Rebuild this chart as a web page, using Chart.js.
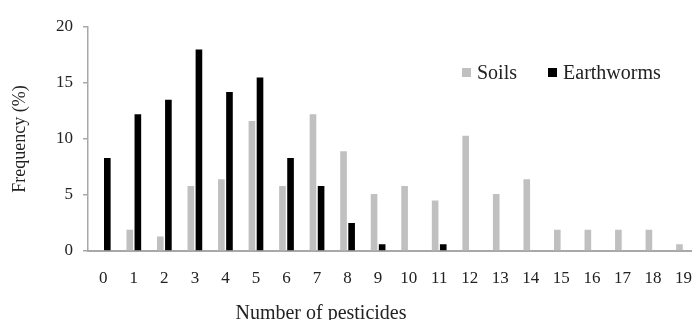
<!DOCTYPE html>
<html>
<head>
<meta charset="utf-8">
<script src="https://cdn.jsdelivr.net/npm/chart.js@4"></script>
<style>
  html, body { margin: 0; padding: 0; background: #fff; }
  #wrap { position: relative; width: 692px; height: 320px; overflow: hidden; }
  #box { position: absolute; left: 0; top: 0; width: 701px; height: 320px; }
  .legend { position: absolute; top: 59px; left: 462px; font: 20px "Liberation Serif", serif; color: #222; white-space: nowrap; }
  .legend span.item { display: inline-flex; align-items: center; }
  .legend i { display: inline-block; width: 9px; height: 9px; margin-right: 6px; }
  .xtitle { position: absolute; left: 0; width: 642px; top: 301px; text-align: center; font: 20px "Liberation Serif", serif; color: #222; }
</style>
</head>
<body>
<div id="wrap">
  <div id="box"><canvas id="chart"></canvas></div>
  <div class="legend">
    <span class="item"><i style="background:#c0c0c0"></i>Soils</span>
    <span class="item" style="margin-left:26px"><i style="background:#000"></i>Earthworms</span>
  </div>
  <div class="xtitle">Number of pesticides</div>
</div>
<script>
// categories: number of pesticides detected per sample
const categories = ['0','1','2','3','4','5','6','7','8','9','10','11','12','13','14','15','16','17','18','19'];

// frequency (%)
const soils      = [0, 1.9, 1.3, 5.8, 6.4, 11.6, 5.8, 12.2, 8.9, 5.1, 5.8, 4.5, 10.3, 5.1, 6.4, 1.9, 1.9, 1.9, 1.9, 0.6];
const earthworms = [8.3, 12.2, 13.5, 18.0, 14.2, 15.5, 8.3, 5.8, 2.5, 0.6, 0, 0.6, 0, 0, 0, 0, 0, 0, 0, 0];

const yTicks = [0, 5, 10, 15, 20];

const axisColor = '#a8a8a8';
const textColor = '#222';
const serif = '"Liberation Serif", "Times New Roman", serif';

new Chart(document.getElementById('chart'), {
  type: 'bar',
  data: {
    labels: categories,
    datasets: [
      { label: 'Soils', data: soils, backgroundColor: '#c0c0c0',
        categoryPercentage: 0.53, barPercentage: 0.82 },
      { label: 'Earthworms', data: earthworms, backgroundColor: '#000000',
        categoryPercentage: 0.53, barPercentage: 0.82 },
    ]
  },
  options: {
    responsive: true,
    maintainAspectRatio: false,
    animation: false,
    layout: { padding: { top: 27, left: 0, right: 0, bottom: 0 } },
    plugins: { legend: { display: false }, tooltip: { enabled: false } },
    scales: {
      x: {
        grid: { display: false },
        border: { display: true, color: axisColor, width: 2 },
        ticks: { color: textColor, font: { family: serif, size: 17 }, padding: 9, maxRotation: 0, autoSkip: false },
        afterFit: s => { s.height = 69; }
      },
      y: {
        min: 0, max: yTicks[yTicks.length - 1],
        afterBuildTicks: s => { s.ticks = yTicks.map(v => ({ value: v })); },
        grid: { drawOnChartArea: false, drawTicks: true, tickLength: 5, color: axisColor, lineWidth: 1.5 },
        border: { display: true, color: axisColor, width: 1.5 },
        ticks: { color: textColor, font: { family: serif, size: 17 }, padding: 10 },
        title: { display: true, text: 'Frequency (%)', color: textColor,
                 font: { family: serif, size: 18 }, padding: { top: 9, bottom: 0 } },
        afterFit: s => { s.width = 88; }
      }
    }
  }
});
</script>
</body>
</html>
